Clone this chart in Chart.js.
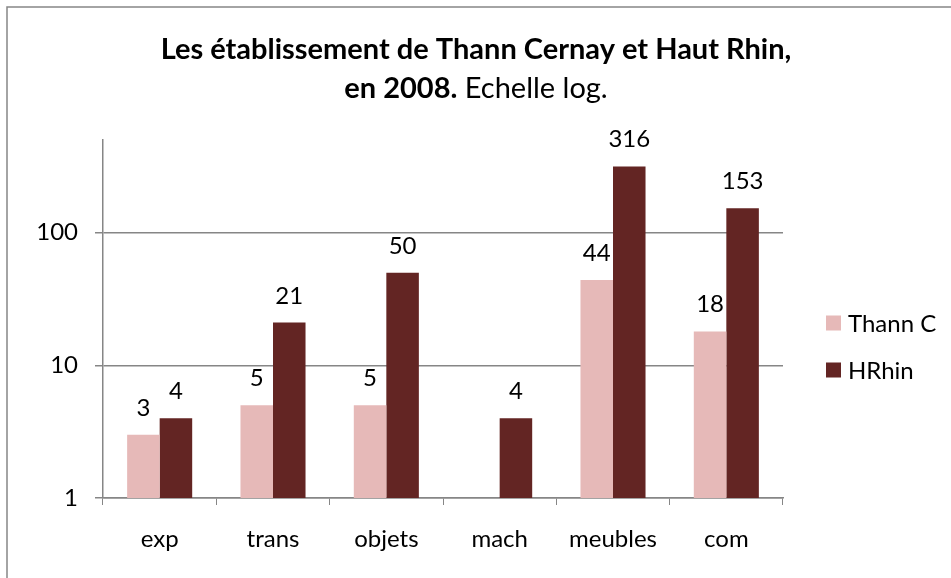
<!DOCTYPE html>
<html>
<head>
<meta charset="utf-8">
<script src="https://cdn.jsdelivr.net/npm/chart.js@4"></script>
<style>
  body { margin: 0; background: #fff; }
  canvas { display: block; }
</style>
</head>
<body>
<canvas id="myChart" width="951" height="578"></canvas>
<script>
// donnees
var categories = ["exp", "trans", "objets", "mach", "meubles", "com"];
var thannC = [3, 5, 5, null, 44, 18];
var hRhin = [4, 21, 50, 4, 316, 153];
var yTicks = [1, 10, 100];
var seriesNames = ["Thann C", "HRhin"];
var barColors = ["#E6B9B8", "#632523"];

var police = "Lato";
var gris = "#868686";

// cadre + titre sur deux lignes (gras / normal melange)
var cadreTitre = {
  id: "cadreTitre",
  afterDraw: function (chart) {
    var ctx = chart.ctx;
    ctx.save();
    ctx.strokeStyle = gris;
    ctx.lineWidth = 1.5;
    ctx.beginPath();
    ctx.moveTo(7, 578);
    ctx.lineTo(7, 7);
    ctx.lineTo(951, 7);
    ctx.stroke();

    ctx.fillStyle = "#000";
    ctx.textBaseline = "alphabetic";
    ctx.textAlign = "center";
    ctx.font = "bold 29px " + police;
    ctx.fillText("Les établissement de Thann Cernay et Haut Rhin,", 476, 59);

    var partie1 = "en 2008.";
    var partie2 = " Echelle log.";
    ctx.font = "bold 29px " + police;
    var w1 = ctx.measureText(partie1).width;
    ctx.font = "29px " + police;
    var w2 = ctx.measureText(partie2).width;
    var x0 = 476 - (w1 + w2) / 2;
    ctx.textAlign = "left";
    ctx.font = "bold 29px " + police;
    ctx.fillText(partie1, x0, 98);
    ctx.font = "29px " + police;
    ctx.fillText(partie2, x0 + w1, 98);
    ctx.restore();
  }
};

// valeurs au dessus des barres
var etiquettes = {
  id: "etiquettes",
  afterDatasetsDraw: function (chart) {
    var ctx = chart.ctx;
    ctx.save();
    ctx.fillStyle = "#000";
    ctx.font = "24px " + police;
    ctx.textAlign = "center";
    ctx.textBaseline = "alphabetic";
    chart.data.datasets.forEach(function (ds, i) {
      var meta = chart.getDatasetMeta(i);
      meta.data.forEach(function (bar, j) {
        var v = ds.data[j];
        if (v === null || v === undefined) return;
        ctx.fillText(String(v), bar.x, bar.y - 19);
      });
    });
    ctx.restore();
  }
};

// legende a droite
var legende = {
  id: "legende",
  afterDraw: function (chart) {
    var ctx = chart.ctx;
    ctx.save();
    ctx.font = "24px " + police;
    ctx.textBaseline = "middle";
    ctx.textAlign = "left";
    for (var i = 0; i < seriesNames.length; i++) {
      var yc = 323 + i * 47;
      ctx.fillStyle = barColors[i];
      ctx.fillRect(826, yc - 7.5, 15, 15);
      ctx.fillStyle = "#000";
      ctx.fillText(seriesNames[i], 848, yc + 1);
    }
    ctx.restore();
  }
};

new Chart("myChart", {
  type: "bar",
  data: {
    labels: categories,
    datasets: [
      {
        label: seriesNames[0],
        data: thannC,
        backgroundColor: barColors[0],
        categoryPercentage: 0.574,
        barPercentage: 1.0
      },
      {
        label: seriesNames[1],
        data: hRhin,
        backgroundColor: barColors[1],
        categoryPercentage: 0.574,
        barPercentage: 1.0
      }
    ]
  },
  options: {
    responsive: false,
    devicePixelRatio: 1,
    animation: false,
    layout: {
      padding: { top: 140, right: 168, left: 0, bottom: 0 }
    },
    plugins: {
      legend: { display: false },
      title: { display: false },
      tooltip: { enabled: false }
    },
    scales: {
      x: {
        afterFit: function (scale) { scale.height = 80; },
        grid: {
          offset: true,
          drawOnChartArea: false,
          drawTicks: true,
          tickLength: 7,
          color: gris
        },
        border: { color: gris, width: 1.5 },
        ticks: {
          color: "#000",
          padding: 20,
          font: { family: police, size: 24 }
        }
      },
      y: {
        type: "logarithmic",
        min: 1,
        max: 500,
        afterFit: function (scale) { scale.width = 103; },
        afterBuildTicks: function (scale) {
          scale.ticks = yTicks.map(function (v) { return { value: v }; });
        },
        grid: {
          color: gris,
          lineWidth: 1.5,
          tickLength: 8
        },
        border: { color: gris, width: 1.5 },
        ticks: {
          color: "#000",
          padding: 17,
          font: { family: police, size: 24 },
          callback: function (v) { return String(v); }
        }
      }
    }
  },
  plugins: [cadreTitre, etiquettes, legende]
});
</script>
</body>
</html>
